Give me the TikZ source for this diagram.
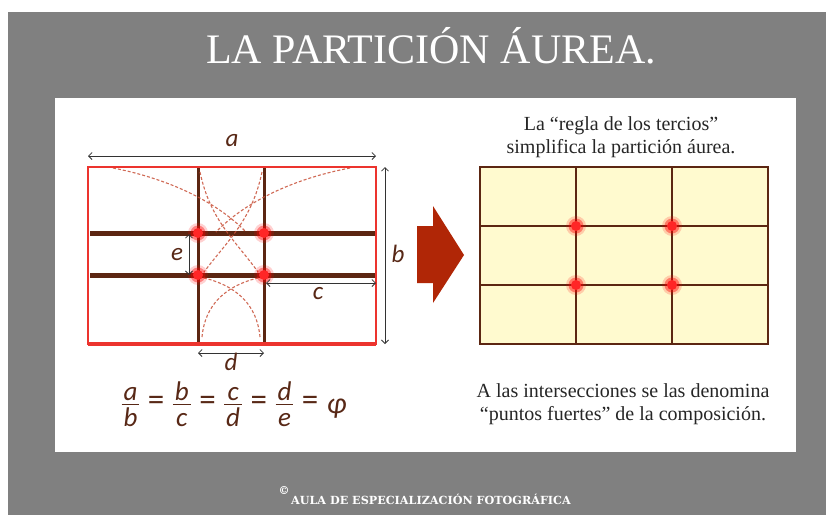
\documentclass[tikz,border=0pt]{standalone}
\usepackage{fontspec}
\setmainfont{Liberation Serif}
\newfontfamily\carlito{Carlito}
\newfontfamily\slabfont{DejaVu Serif}
\usetikzlibrary{arrows.meta}
\definecolor{fondo}{RGB}{128,128,128}
\definecolor{marron}{RGB}{92,38,18}
\definecolor{rojoborde}{RGB}{236,52,46}
\definecolor{crema}{RGB}{255,250,207}
\definecolor{flechaoscura}{RGB}{176,38,6}
\definecolor{tinta}{RGB}{88,40,22}
\definecolor{espiral}{RGB}{200,80,56}
\newcommand{\letrac}[1]{{\carlito\itshape #1}}
\newcommand{\fraccion}[2]{\ensuremath{\vcenter{\offinterlineskip
    \halign{\hfil\kern2pt##\kern2pt\hfil\cr
        \vphantom{bd}\letrac{#1}\cr
        \noalign{\kern3pt\hrule height 1.4pt\kern2.5pt}
        \vphantom{bd}\letrac{#2}\cr}}}}
\newcommand{\igualc}{\hspace{8.5pt}{\carlito\fontsize{33}{35}\selectfont =}\hspace{8.5pt}}
\tikzset{%
    cota/.style={%
        draw=black!80, line width=0.8pt,
        {Straight Barb[length=3.5pt,width=7pt]}-{Straight Barb[length=3.5pt,width=7pt]}
    },
    letra/.style={text=tinta, font=\carlito\itshape\fontsize{25}{27}\selectfont},
    texto/.style={align=center, text=black!85, font=\fontsize{20}{23}\selectfont},
    aurea/.style={draw=espiral, line width=1.1pt, dash pattern=on 3pt off 2pt, opacity=0.85},
    puntofuerte/.pic={
        \fill[red, opacity=0.18] (0,0) circle (10pt);
        \fill[red, opacity=0.4] (0,0) circle (7.5pt);
        \fill[red!85!white] (0,0) circle (5pt);
    }
}

\begin{document}
\begin{tikzpicture}[x=1pt, y=-1pt]
\useasboundingbox (0,0) rectangle (826,515);
% fondo y panel
\fill[fondo] (8,12) rectangle (826,515);
\fill[white] (55,98) rectangle (796,452);
\node[text=white, font=\fontsize{42}{46}\selectfont] (titulo) at (431,46) {LA PARTICIÓN ÁUREA.};

% particion aurea (izquierda)
\coordinate (A) at (88,167);
\coordinate (B) at (376,167);
\coordinate (C) at (376,344);
\coordinate (D) at (88,344);
\draw[marron, line width=3pt] (198,167) -- (198,344) (264,167) -- (264,344);
\draw[marron, line width=5pt] (90,233) -- (376,233) (90,275) -- (376,275);
\draw[aurea] (113,168) .. controls (165,178) and (215,200) .. (246,232);
\draw[aurea] (350,168) .. controls (297,178) and (247,200) .. (216,232);
\draw[aurea] (200,172) .. controls (210,220) and (235,240) .. (258,272);
\draw[aurea] (262,172) .. controls (252,220) and (228,240) .. (204,272);
\draw[aurea] (202,337) .. controls (205,305) and (225,285) .. (262,277);
\draw[aurea] (260,337) .. controls (257,305) and (237,285) .. (200,277);
\draw[rojoborde, line width=2pt] (A) -- (B) -- (C) -- (D) -- cycle;
\draw[rojoborde, line width=3.5pt] (D) -- (C);
\foreach \px/\py in {198/233, 264/233, 198/275, 264/275}
    \pic at (\px,\py) {puntofuerte};

% cotas
\coordinate (a1) at (88,156);
\coordinate (a2) at (376,156);
\coordinate (b1) at (385,167);
\coordinate (b2) at (385,344);
\coordinate (c1) at (266,283);
\coordinate (c2) at (376,283);
\coordinate (d1) at (198,353);
\coordinate (d2) at (264,353);
\coordinate (e1) at (189,234);
\coordinate (e2) at (189,275);
\draw[cota] (a1) -- (a2);
\draw[cota] (b1) -- (b2);
\draw[cota] (c1) -- (c2);
\draw[cota] (d1) -- (d2);
\draw[cota] (e1) -- (e2);
\node[letra] (la) at (232,141) {a};
\node[letra] (lb) at (398,254) {b};
\node[letra] (lc) at (318,294) {c};
\node[letra] (ld) at (231,362) {d};
\node[letra] (le) at (177,255) {e};

% formula
\node[text=tinta, font=\fontsize{27}{29}\selectfont, inner sep=0pt] (formula) at (234,404)
    {\fraccion{a}{b}\igualc\fraccion{b}{c}\igualc\fraccion{c}{d}\igualc\fraccion{d}{e}\igualc
    \raisebox{-3pt}{\letrac{\fontsize{30}{32}\selectfont φ}}};

% flecha
\fill[flechaoscura] (417,226) -- (433,226) -- (433,206) -- (464,255)
    -- (433,303) -- (433,283) -- (417,283) -- cycle;

% regla de los tercios (derecha)
\node[texto] (tercios) at (621,137) {La “regla de los tercios”\\simplifica la partición áurea.};
\coordinate (R1) at (480,167);
\coordinate (R2) at (768,344);
\fill[crema] (R1) rectangle (R2);
\draw[marron, line width=1.8pt] (576,167) -- (576,344) (672,167) -- (672,344);
\draw[marron, line width=1.8pt] (480,226) -- (768,226) (480,285) -- (768,285);
\draw[marron, line width=2pt] (R1) rectangle (R2);
\foreach \px/\py in {576/226, 672/226, 576/285, 672/285}
    \pic at (\px,\py) {puntofuerte};
\node[texto] (puntos) at (623,404) {A las intersecciones se las denomina\\“puntos fuertes” de la composición.};

% pie
\node[text=white, font=\slabfont\bfseries\fontsize{11}{12}\selectfont] (copy) at (284,490) {©};
\node[text=white, font=\slabfont\bfseries\fontsize{11.2}{13}\selectfont] (pie) at (431,499) {AULA DE ESPECIALIZACIÓN FOTOGRÁFICA};
\end{tikzpicture}
\end{document}
